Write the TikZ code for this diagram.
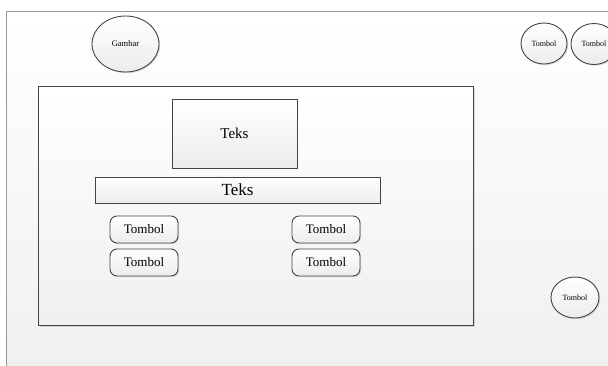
\documentclass[tikz,border=0pt]{standalone}
\usepackage{fontspec}
\setmainfont{Liberation Serif}
\usetikzlibrary{shapes.geometric,shadows}
\definecolor{edge}{HTML}{444444}
\definecolor{fillbot}{HTML}{ECECEC}
\tikzset{
  base/.style={draw=edge, line width=0.9pt, top color=white, bottom color=fillbot,
    drop shadow={shadow xshift=1.2pt, shadow yshift=-1.2pt, opacity=0.25}, inner sep=0pt},
  oval/.style={base, ellipse},
  boxnode/.style={base, rectangle},
  btn/.style={base, rectangle, rounded corners=7pt, minimum width=68pt, minimum height=27pt, font=\fontsize{13}{13}\selectfont},
}
\begin{document}
\begin{tikzpicture}[x=1pt,y=-1pt]
\useasboundingbox (0,0) rectangle (608,365);
\clip (0,0) rectangle (608,365);
\fill[white] (0,0) rectangle (608,365);
\node[boxnode, anchor=north west, minimum width=620pt, minimum height=370pt, draw=gray!80, line width=1.3pt, top color=white, bottom color=black!6, drop shadow={opacity=0}] (frame) at (6,11) {};
\node[boxnode, anchor=north west, minimum width=435pt, minimum height=239pt, top color=white, bottom color=black!6] (panel) at (38,86) {};
\node[oval, minimum width=67pt, minimum height=56pt, font=\fontsize{8.5}{8.5}\selectfont] (gambar) at (125.5,44) {Gambar};
\node[oval, minimum width=46pt, minimum height=41pt, font=\fontsize{8}{8}\selectfont] (t1) at (544,43.5) {Tombol};
\node[oval, minimum width=46pt, minimum height=41pt, font=\fontsize{8}{8}\selectfont] (t2) at (594,44) {Tombol};
\node[oval, minimum width=48pt, minimum height=41pt, font=\fontsize{8}{8}\selectfont] (t3) at (575,297.5) {Tombol};
\node[boxnode, minimum width=125pt, minimum height=69pt, font=\fontsize{15}{15}\selectfont] (teks1) at (234.5,133.5) {Teks};
\node[boxnode, minimum width=285pt, minimum height=26pt, font=\fontsize{17}{17}\selectfont] (teks2) at (237.5,190) {Teks};
\node[btn] (b1) at (144,229.5) {Tombol};
\node[btn] (b2) at (144,262.5) {Tombol};
\node[btn] (b3) at (326,229.5) {Tombol};
\node[btn] (b4) at (326,262.5) {Tombol};
\end{tikzpicture}
\end{document}
